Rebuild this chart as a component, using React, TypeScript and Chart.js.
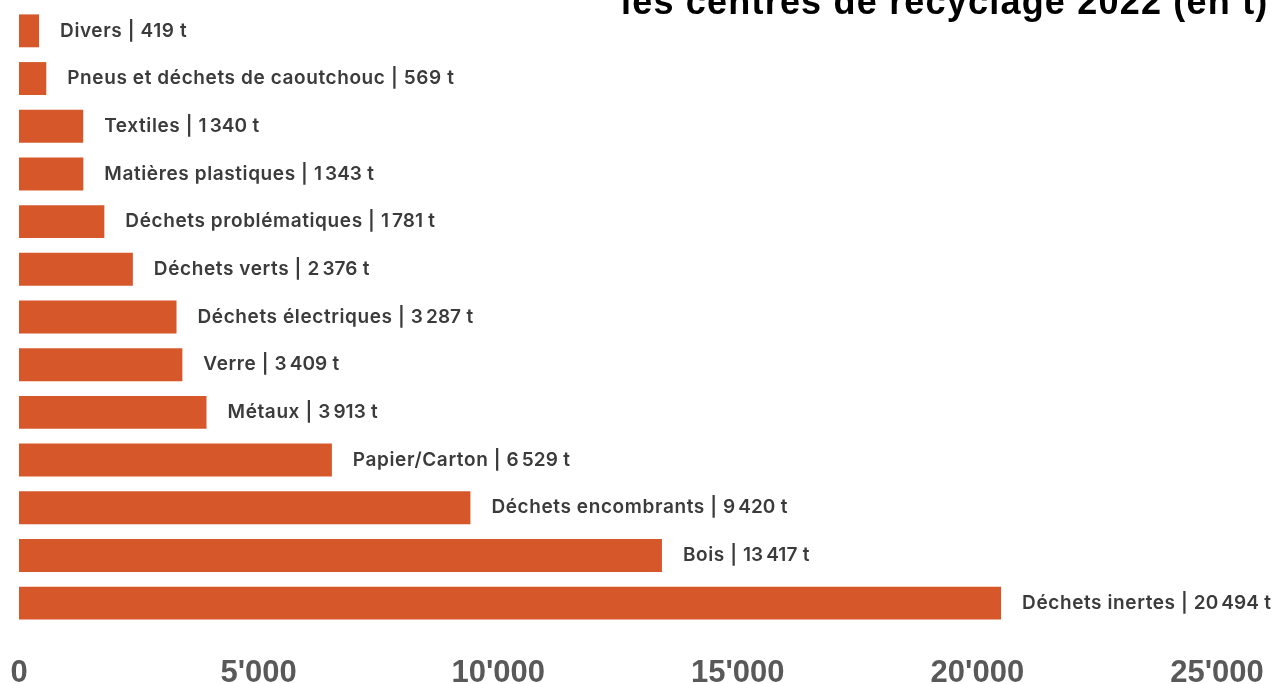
import React, { useEffect, useRef } from "react";
import { Chart, registerables } from "chart.js";

Chart.register(...registerables);

const categories: string[] = [
  "Divers",
  "Pneus et déchets de caoutchouc",
  "Textiles",
  "Matières plastiques",
  "Déchets problématiques",
  "Déchets verts",
  "Déchets électriques",
  "Verre",
  "Métaux",
  "Papier/Carton",
  "Déchets encombrants",
  "Bois",
  "Déchets inertes",
];

const tonnes: number[] = [419, 569, 1340, 1343, 1781, 2376, 3287, 3409, 3913, 6529, 9420, 13417, 20494];

const xTicks: number[] = [0, 5000, 10000, 15000, 20000, 25000];

const titleLine = "les centres de recyclage 2022 (en t)";

const BAR_COLOR = "#d6572a";
const LABEL_COLOR = "#3b3b3b";
const TICK_COLOR = "#595959";

function fmtThousands(v: number, sep: string): string {
  return String(v).replace(/\B(?=(\d{3})+(?!\d))/g, sep);
}

export default function App() {
  const canvasRef = useRef<HTMLCanvasElement | null>(null);

  useEffect(() => {
    const canvas = canvasRef.current;
    if (!canvas) return;

    const labelPlugin = {
      id: "barLabels",
      afterDatasetsDraw(chart: any) {
        const ctx = chart.ctx;
        const meta = chart.getDatasetMeta(0);
        ctx.save();
        ctx.font = "600 19px Inter, 'Open Sans', sans-serif";
        (ctx as any).letterSpacing = "0.6px";
        ctx.fillStyle = LABEL_COLOR;
        ctx.textBaseline = "middle";
        ctx.textAlign = "left";
        meta.data.forEach((bar: any, i: number) => {
          const txt = `${categories[i]} | ${fmtThousands(tonnes[i], "\u202F")} t`;
          ctx.fillText(txt, bar.x + 21, bar.y);
        });
        ctx.restore();
      },
    };

    const titlePlugin = {
      id: "cutTitle",
      afterDraw(chart: any) {
        const ctx = chart.ctx;
        ctx.save();
        ctx.font = "bold 36px 'Liberation Sans', Arial, sans-serif";
        (ctx as any).letterSpacing = "1.2px";
        ctx.fillStyle = "#000000";
        ctx.textBaseline = "alphabetic";
        ctx.textAlign = "left";
        ctx.fillText(titleLine, 621, 14);
        ctx.restore();
      },
    };

    const chart = new Chart(canvas, {
      type: "bar",
      data: {
        labels: categories,
        datasets: [
          {
            data: tonnes,
            backgroundColor: BAR_COLOR,
            borderWidth: 0,
            barPercentage: 0.69,
            categoryPercentage: 1,
          },
        ],
      },
      options: {
        indexAxis: "y",
        animation: false,
        responsive: false,
        maintainAspectRatio: false,
        layout: { padding: { top: 7, left: 19, right: 58, bottom: 0 } },
        plugins: {
          legend: { display: false },
          tooltip: { enabled: false },
          title: { display: false },
        },
        scales: {
          x: {
            min: 0,
            max: 25000,
            grid: { display: false, drawTicks: false },
            border: { display: false },
            afterBuildTicks(scale: any) {
              scale.ticks = xTicks.map((v) => ({ value: v }));
            },
            afterFit(scale: any) {
              scale.height = 57;
              scale.paddingLeft = 0;
              scale.paddingRight = 0;
            },
            ticks: {
              padding: 31,
              color: TICK_COLOR,
              font: { family: "'Liberation Sans', Arial, sans-serif", weight: "bold", size: 31, lineHeight: 1 },
              maxRotation: 0,
              autoSkip: false,
              callback: (v: any) => fmtThousands(Number(v), "'"),
            },
          },
          y: {
            display: false,
            offset: true,
            grid: { display: false },
          },
        },
      },
      plugins: [labelPlugin, titlePlugin],
    });

    return () => chart.destroy();
  }, []);

  return (
    <div style={{ position: "fixed", left: 0, top: 0, width: 1275, height: 684, background: "#ffffff" }}>
      <canvas ref={canvasRef} width={1275} height={684} style={{ display: "block" }} />
    </div>
  );
}
